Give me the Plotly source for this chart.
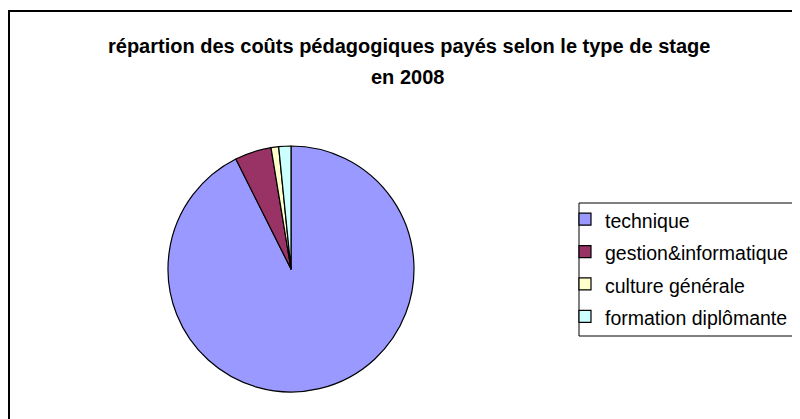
import plotly.graph_objects as go

categories = ["technique", "gestion&informatique", "culture générale", "formation diplômante"]
values = [92.6, 4.8, 1.0, 1.6]
colors = ["#9999FF", "#993366", "#FFFFCC", "#CCFFFF"]
title_line1 = "répartion des coûts pédagogiques payés selon le type de stage"
title_line2 = "en 2008"

W, H = 800, 419
FONT = "Liberation Sans, Arial, sans-serif"

# legend labels: rendered text a bit smaller than the legend font so that rows get Excel-like spacing
legend_labels = ['<span style="font-size:19.5px">' + c + "</span>" for c in categories]

fig = go.Figure()
fig.add_trace(go.Pie(
    labels=legend_labels,
    values=values,
    sort=False,
    direction="clockwise",
    rotation=0,
    textinfo="none",
    hoverinfo="label+percent",
    marker=dict(colors=colors, line=dict(color="#000000", width=1.2)),
    domain=dict(x=[160 / W, 406 / W], y=[1 - 384 / H, 1 - 138 / H]),
    showlegend=True,
))

fig.update_layout(
    width=W, height=H,
    margin=dict(l=0, r=0, t=0, b=0, autoexpand=False),
    paper_bgcolor="white",
    plot_bgcolor="white",
    font=dict(family=FONT, color="#000000"),
    showlegend=True,
    legend=dict(
        x=557 / W, y=1 - 190 / H, xanchor="left", yanchor="top",
        borderwidth=0, bgcolor="rgba(0,0,0,0)",
        font=dict(size=22.6, family=FONT, color="#000000"),
        traceorder="normal",
    ),
    shapes=[
        dict(type="rect", xref="paper", yref="paper",
             x0=1 / W, x1=1.02, y0=-0.02, y1=1 - 3 / H,
             line=dict(color="#000000", width=2), fillcolor="rgba(0,0,0,0)", layer="above"),
        dict(type="rect", xref="paper", yref="paper",
             x0=571 / W, x1=1.02, y0=1 - 328 / H, y1=1 - 195 / H,
             line=dict(color="#000000", width=1), fillcolor="rgba(0,0,0,0)", layer="below"),
    ],
    annotations=[
        dict(text="<b>" + title_line1 + "</b>", x=401 / W, y=1 - 38 / H, xref="paper", yref="paper",
             xanchor="center", yanchor="middle", showarrow=False,
             font=dict(size=20, family=FONT, color="#000000")),
        dict(text="<b>" + title_line2 + "</b>", x=399 / W, y=1 - 69 / H, xref="paper", yref="paper",
             xanchor="center", yanchor="middle", showarrow=False,
             font=dict(size=20, family=FONT, color="#000000")),
    ],
)

fig.write_html("out.html")
